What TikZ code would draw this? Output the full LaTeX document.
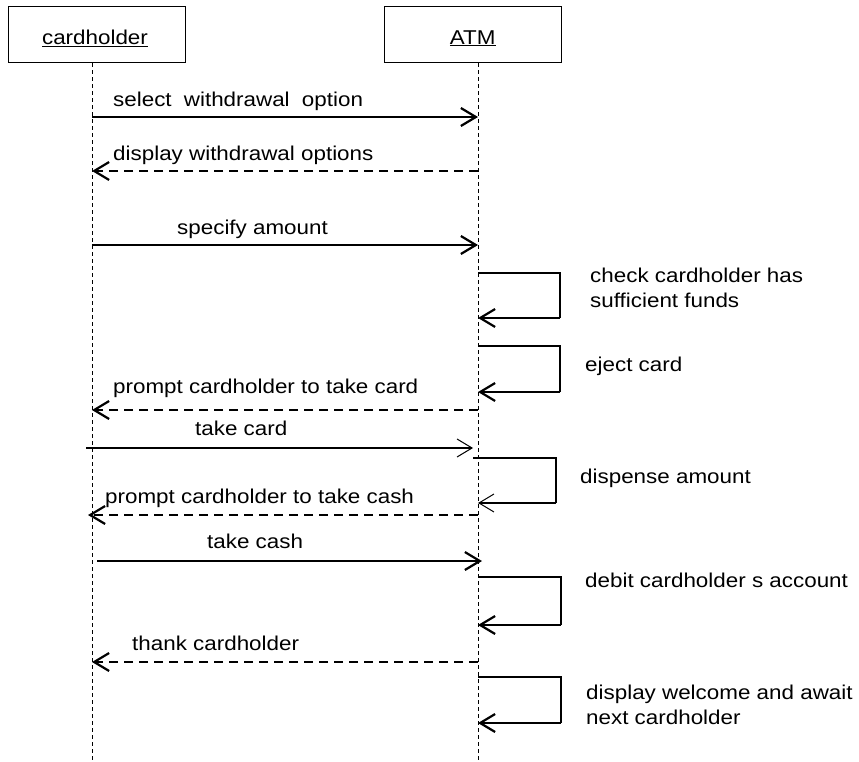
\documentclass[tikz,border=0pt]{standalone}
\usepackage{fontspec}
\setmainfont{Liberation Sans}[FakeStretch=1.12]
\usetikzlibrary{arrows.meta}
\begin{document}
\begin{tikzpicture}[x=1pt,y=-1pt,
  txt/.style={font=\fontsize{20}{25}\selectfont},
  lifehead/.style={draw, line width=1pt, minimum width=176.7pt, minimum height=56pt, inner sep=0pt, txt},
  lifeline/.style={line width=0.9pt, dash pattern=on 4pt off 3pt},
  msg/.style={line width=2.2pt, -{Straight Barb[length=15pt,width=18pt,line width=2.2pt]}},
  thinmsg/.style={line width=2.2pt, -{Straight Barb[length=15pt,width=18pt,line width=1pt]}},
  ret/.style={msg, dash pattern=on 9pt off 6pt},
  selfline/.style={line width=1.2pt},
  lbl/.style={inner sep=0pt, anchor=base west, txt, align=left}]
\useasboundingbox (0,0) rectangle (859,762);
% lifeline heads
\node[lifehead] (ch) at (96.7,34.7) {};
\node[txt, inner sep=0pt, anchor=base] (chT) at (95,44.3) {\underline{cardholder}};
\node[lifehead] (atm) at (472.7,34.7) {};
\node[txt, inner sep=0pt, anchor=base] (atmT) at (472.7,44.3) {\underline{ATM}};
% lifelines
\coordinate (chend) at (92,762);
\coordinate (atmend) at (478,762);
\draw[lifeline] (ch.south -| chend) -- (chend);
\draw[lifeline] (atm.south -| atmend) -- (atmend);
% message end points
\coordinate (c1) at (92,117);  \coordinate (a1) at (478,117);
\coordinate (a2) at (478,171); \coordinate (c2) at (92,171);
\coordinate (c3) at (92,245);  \coordinate (a3) at (478,245);
\coordinate (a4t) at (478,273); \coordinate (r4) at (560,318); \coordinate (a4b) at (478,318);
\coordinate (a5t) at (478,346); \coordinate (r5) at (560,392); \coordinate (a5b) at (478,392);
\coordinate (a6) at (478,410); \coordinate (c6) at (92,410);
\coordinate (c7) at (86,448);  \coordinate (a7) at (473,448);
\coordinate (a8t) at (473,458); \coordinate (r8) at (556,503); \coordinate (a8b) at (478,503);
\coordinate (a9) at (478,515); \coordinate (c9) at (88,515);
\coordinate (c10) at (97,561); \coordinate (a10) at (482,561);
\coordinate (a11t) at (478,577); \coordinate (r11) at (561,625); \coordinate (a11b) at (478,625);
\coordinate (a12) at (478,662); \coordinate (c12) at (92,662);
\coordinate (a13t) at (478,677); \coordinate (r13) at (561,723); \coordinate (a13b) at (478,723);
% messages
\draw[msg] (c1) -- (a1);
\draw[ret] (a2) -- (c2);
\draw[msg] (c3) -- (a3);
\draw[selfline] (a4t) -| (r4); \draw[msg] (r4) -- (a4b);
\draw[selfline] (a5t) -| (r5); \draw[msg] (r5) -- (a5b);
\draw[ret] (a6) -- (c6);
\draw[thinmsg] (c7) -- (a7);
\draw[selfline] (a8t) -| (r8); \draw[thinmsg] (r8) -- (a8b);
\draw[ret] (a9) -- (c9);
\draw[msg] (c10) -- (a10);
\draw[selfline] (a11t) -| (r11); \draw[msg] (r11) -- (a11b);
\draw[ret] (a12) -- (c12);
\draw[selfline] (a13t) -| (r13); \draw[msg] (r13) -- (a13b);
% labels
\node[lbl] (l1) at (113,107) {select\hspace{0.3em} withdrawal\hspace{0.3em} option};
\node[lbl] (l2) at (113,161) {display withdrawal options};
\node[lbl] (l3) at (177,234) {specify amount};
\node[lbl] (l4) at (590,307) {check cardholder has\\sufficient funds};
\node[lbl] (l5) at (585,371) {eject card};
\node[lbl] (l6) at (113,393) {prompt cardholder to take card};
\node[lbl] (l7) at (195,435) {take card};
\node[lbl] (l8) at (580,483) {dispense amount};
\node[lbl] (l9) at (105,503) {prompt cardholder to take cash};
\node[lbl] (l10) at (207,548) {take cash};
\node[lbl] (l11) at (585,587) {debit cardholder s account};
\node[lbl] (l12) at (132,650) {thank cardholder};
\node[lbl] (l13) at (586,724) {display welcome and await\\next cardholder};
\end{tikzpicture}
\end{document}
